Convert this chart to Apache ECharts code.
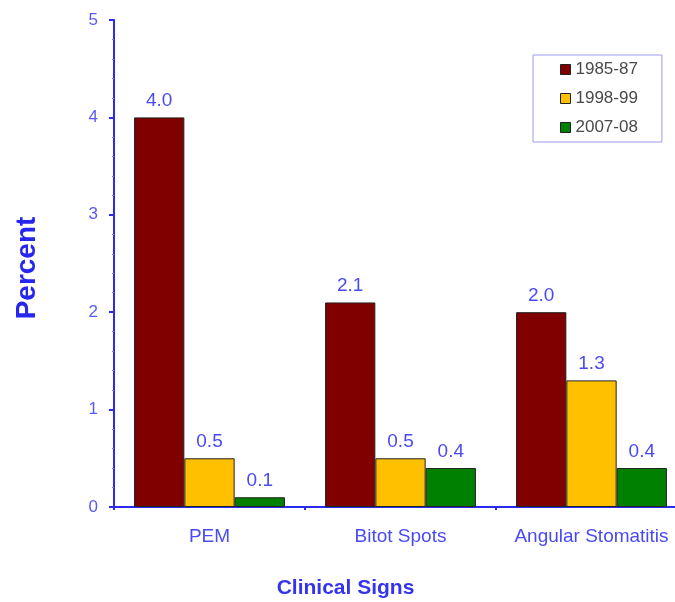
<!DOCTYPE html>
<html><head><meta charset="utf-8">
<script src="https://cdn.jsdelivr.net/npm/echarts@6/dist/echarts.min.js"></script>
<style>html,body{margin:0;padding:0;background:#fff;overflow:hidden}#c{width:687px;height:602px}</style>
</head><body><div id="c"></div>
<script>
const categories = ['PEM', 'Bitot Spots', 'Angular Stomatitis'];
const seriesNames = ['1985-87', '1998-99', '2007-08'];
const v1985 = [4.0, 2.1, 2.0];
const v1998 = [0.5, 0.5, 1.3];
const v2007 = [0.1, 0.4, 0.4];
const yTicks = [0, 1, 2, 3, 4, 5];
const colors = ['#800000', '#FFC000', '#008000'];
const chart = echarts.init(document.getElementById('c'));
const mk = (name, data, color) => ({
  name, type: 'bar', data, barGap: '0%', barCategoryGap: '21%',
  itemStyle: {color, borderColor: '#222', borderWidth: 1},
  label: {show: true, position: 'top', distance: 7, color: '#4a4af5', fontSize: 19,
    fontFamily: 'Liberation Sans', formatter: p => p.value.toFixed(1)}
});
chart.setOption({
  animation: false,
  backgroundColor: '#fff',
  grid: {left: 114, right: 0, top: 20, bottom: 95, containLabel: false, outerBoundsMode: 'none'},
  legend: {
    orient: 'vertical', left: 533, top: 55, itemWidth: 10, itemHeight: 10, itemGap: 12,
    padding: [6, 24, 6, 27],
    borderColor: '#9a9af0', borderWidth: 1,
    icon: 'rect',
    textStyle: {color: '#4a4a4a', fontSize: 17, lineHeight: 17, fontFamily: 'Liberation Sans'},
    itemStyle: {borderColor: '#222', borderWidth: 1},
    data: seriesNames
  },
  xAxis: {
    type: 'category', data: categories,
    name: 'Clinical Signs', nameLocation: 'middle', nameGap: 71,
    nameTextStyle: {color: '#3434ee', fontSize: 21, fontWeight: 'bold', fontFamily: 'Liberation Sans', padding: [0, 0, 0, -110]},
    axisLine: {lineStyle: {color: '#2a2af0', width: 2}},
    axisTick: {show: true, length: 3, lineStyle: {color: '#2a2af0', width: 2}},
    axisLabel: {color: '#4a4af5', fontSize: 19, margin: 20, interval: 0, fontFamily: 'Liberation Sans'}
  },
  yAxis: {
    type: 'value', min: 0, max: 5, interval: 1,
    name: 'Percent', nameLocation: 'middle', nameGap: 73, nameRotate: 90,
    nameTextStyle: {color: '#2626ee', fontSize: 28, fontWeight: 'bold', fontFamily: 'Liberation Sans', padding: [0, 9, 0, 0]},
    axisLine: {show: true, lineStyle: {color: '#2a2af0', width: 2}},
    axisTick: {show: true, inside: false, length: 5, lineStyle: {color: '#2a2af0', width: 2}},
    minorTick: {show: true, splitNumber: 5, length: 2, lineStyle: {color: '#7a7af5'}},
    splitLine: {show: false},
    axisLabel: {color: '#5a5af5', fontSize: 17, margin: 16, fontFamily: 'Liberation Sans',
      formatter: v => yTicks.includes(v) ? String(v) : ''}
  },
  series: [mk(seriesNames[0], v1985, colors[0]), mk(seriesNames[1], v1998, colors[1]), mk(seriesNames[2], v2007, colors[2])]
});
</script></body></html>
